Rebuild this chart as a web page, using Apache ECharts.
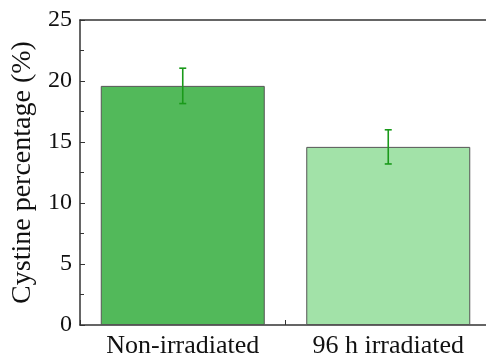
<!DOCTYPE html>
<html><head><meta charset="utf-8">
<script src="https://cdn.jsdelivr.net/npm/echarts@6/dist/echarts.min.js"></script>
<style>html,body{margin:0;padding:0;overflow:hidden;background:#fff}#c{width:486px;height:360px}</style>
</head><body><div id="c"></div>
<script>
const categories = ['Non-irradiated', '96 h irradiated'];
const positions = [1, 3];
const values = [19.6, 14.6];
const errors = [1.45, 1.4];
const yTicks = [0, 5, 10, 15, 20, 25];
const colors = ['#52b95a', '#a2e2a8'];

const chart = echarts.init(document.getElementById('c'), null, {renderer: 'canvas'});
const font = "'Liberation Serif', 'Times New Roman', serif";
chart.setOption({
  animation: false,
  grid: {left: 80, right: -5, top: 20, bottom: 35, containLabel: false, outerBoundsMode: 'none'},
  xAxis: [{
    type: 'value', min: 0, max: 4, interval: 1,
    axisLine: {lineStyle: {color: '#333', width: 1.5}},
    axisTick: {inside: true, length: 5, lineStyle: {color: '#333'}},
    splitLine: {show: false},
    axisLabel: {
      fontFamily: font, fontSize: 26, color: '#111', margin: 8,
      formatter: v => { const i = positions.indexOf(v); return i >= 0 ? categories[i] : ''; }
    }
  }, {
    type: 'value', position: 'top', min: 0, max: 4,
    axisLine: {show: true, lineStyle: {color: '#333', width: 1.5}},
    axisTick: {show: false}, axisLabel: {show: false}, splitLine: {show: false}
  }],
  yAxis: {
    type: 'value', min: yTicks[0], max: yTicks[yTicks.length - 1], interval: 5,
    name: 'Cystine percentage (%)', nameLocation: 'middle', nameGap: 38,
    nameTextStyle: {fontFamily: font, fontSize: 28, color: '#111'},
    axisLine: {show: true, lineStyle: {color: '#333', width: 1.5}},
    axisTick: {inside: true, length: 5, lineStyle: {color: '#333'}},
    minorTick: {show: true, splitNumber: 2, length: 4, lineStyle: {color: '#333'}},
    splitLine: {show: false},
    axisLabel: {fontFamily: font, fontSize: 24, color: '#111', margin: 8}
  },
  series: [
    {
      type: 'bar', barWidth: 164,
      data: positions.map((p, i) => ({value: [p, values[i]], itemStyle: {color: colors[i], borderColor: '#555', borderWidth: 1}}))
    },
    {
      type: 'custom',
      data: positions.map((p, i) => [p, values[i] - errors[i], values[i] + errors[i]]),
      renderItem: (params, api) => {
        const lo = api.coord([api.value(0), api.value(1)]);
        const hi = api.coord([api.value(0), api.value(2)]);
        const w = 3.5;
        const st = {stroke: '#1a9a1a', lineWidth: 1.6};
        return {type: 'group', children: [
          {type: 'line', shape: {x1: lo[0], y1: lo[1], x2: hi[0], y2: hi[1]}, style: st},
          {type: 'line', shape: {x1: lo[0] - w, y1: lo[1], x2: lo[0] + w, y2: lo[1]}, style: st},
          {type: 'line', shape: {x1: hi[0] - w, y1: hi[1], x2: hi[0] + w, y2: hi[1]}, style: st}
        ]};
      },
      z: 10
    }
  ]
});
</script></body></html>
